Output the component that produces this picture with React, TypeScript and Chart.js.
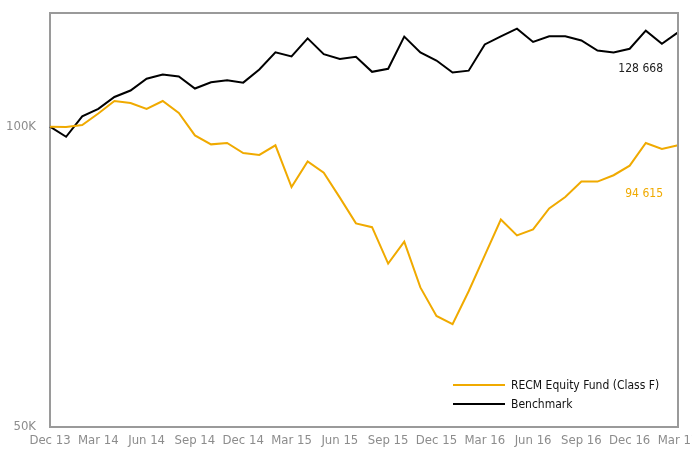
import React, { useEffect, useRef } from "react";
import { Chart, registerables } from "chart.js";

Chart.register(...registerables);

const months: string[] = [
  "Dec 13", "Jan 14", "Feb 14", "Mar 14", "Apr 14", "May 14", "Jun 14", "Jul 14", "Aug 14", "Sep 14",
  "Oct 14", "Nov 14", "Dec 14", "Jan 15", "Feb 15", "Mar 15", "Apr 15", "May 15", "Jun 15", "Jul 15",
  "Aug 15", "Sep 15", "Oct 15", "Nov 15", "Dec 15", "Jan 16", "Feb 16", "Mar 16", "Apr 16", "May 16",
  "Jun 16", "Jul 16", "Aug 16", "Sep 16", "Oct 16", "Nov 16", "Dec 16", "Jan 17", "Feb 17", "Mar 17",
];

const fundValues: number[] = [
  100000, 99900, 100400, 103100, 106100, 105600, 104200, 106100, 103200, 98000,
  96000, 96300, 94100, 93700, 95800, 87000, 92300, 89900, 84900, 80000,
  79300, 72900, 76700, 69000, 64600, 63400, 68400, 74300, 80700, 77800,
  78900, 82800, 85000, 88100, 88100, 89400, 91400, 96300, 95000, 95800,
];

const benchmarkValues: number[] = [
  100000, 97700, 102400, 104200, 107100, 108700, 111700, 112800, 112300, 109200,
  110800, 111300, 110700, 114100, 118700, 117600, 122600, 118200, 116900, 117500,
  113500, 114300, 123100, 118700, 116500, 113300, 113800, 120900, 123200, 125400,
  121600, 123200, 123200, 122000, 119200, 118700, 119700, 124800, 121100, 124300,
];

const xTickLabels: string[] = [
  "Dec 13", "Mar 14", "Jun 14", "Sep 14", "Dec 14", "Mar 15", "Jun 15",
  "Sep 15", "Dec 15", "Mar 16", "Jun 16", "Sep 16", "Dec 16", "Mar 17",
];

const yTickValues: number[] = [50000, 100000];
const yTickLabels: string[] = ["50K", "100K"];

const seriesNames: string[] = ["RECM Equity Fund (Class F)", "Benchmark"];
const endLabels: string[] = ["94 615", "128 668"];

const FUND_COLOR = "#F0AA00";
const BENCH_COLOR = "#000000";
const AXIS_COLOR = "#9a9a9a";
const TICK_COLOR = "#8c8c8c";
const FONT = "'Liberation Sans Narrow', 'DejaVu Sans Condensed', 'Roboto', sans-serif";

const overlayPlugin = {
  id: "overlay",
  afterDatasetsDraw(chart: any) {
    const { ctx, chartArea } = chart;
    ctx.save();
    // top & right border
    ctx.strokeStyle = AXIS_COLOR;
    ctx.lineWidth = 2;
    ctx.beginPath();
    ctx.moveTo(chartArea.left, chartArea.top);
    ctx.lineTo(chartArea.right, chartArea.top);
    ctx.lineTo(chartArea.right, chartArea.bottom);
    ctx.stroke();

    // end labels
    ctx.font = `12px ${FONT}`;
    ctx.textAlign = "right";
    ctx.textBaseline = "middle";
    const offsets = [49, 36];
    chart.data.datasets.forEach((ds: any, i: number) => {
      const meta = chart.getDatasetMeta(i);
      const last = meta.data[meta.data.length - 1];
      ctx.fillStyle = i === 0 ? FUND_COLOR : "#222";
      ctx.fillText(endLabels[i], last.x - 15, last.y + offsets[i]);
    });

    // legend
    ctx.font = `12px ${FONT}`;
    ctx.textAlign = "left";
    const lx = chartArea.right - 225;
    const ys = [chartArea.bottom - 42, chartArea.bottom - 23];
    seriesNames.forEach((name, i) => {
      ctx.strokeStyle = i === 0 ? FUND_COLOR : BENCH_COLOR;
      ctx.lineWidth = 2;
      ctx.beginPath();
      ctx.moveTo(lx, ys[i]);
      ctx.lineTo(lx + 52, ys[i]);
      ctx.stroke();
      ctx.fillStyle = "#111";
      ctx.fillText(name, lx + 58, ys[i] + 1);
    });
    ctx.restore();
  },
};

export default function App() {
  const canvasRef = useRef<HTMLCanvasElement | null>(null);

  useEffect(() => {
    document.body.style.margin = "0";
    const canvas = canvasRef.current;
    if (!canvas) return;
    const chart = new Chart(canvas, {
      type: "line",
      data: {
        labels: months,
        datasets: [
          {
            label: seriesNames[0],
            data: fundValues,
            borderColor: FUND_COLOR,
            borderWidth: 2,
            pointRadius: 0,
            tension: 0,
          },
          {
            label: seriesNames[1],
            data: benchmarkValues,
            borderColor: BENCH_COLOR,
            borderWidth: 2,
            pointRadius: 0,
            tension: 0,
          },
        ],
      },
      options: {
        animation: false,
        responsive: false,
        maintainAspectRatio: false,
        layout: { padding: { left: 0, right: 14, top: 13, bottom: 0 } },
        plugins: { legend: { display: false }, tooltip: { enabled: false } },
        scales: {
          x: {
            type: "category",
            offset: false,
            grid: { display: false, drawTicks: false },
            border: { display: true, color: AXIS_COLOR, width: 2 },
            ticks: {
              autoSkip: false,
              maxRotation: 0,
              minRotation: 0,
              padding: 6,
              color: TICK_COLOR,
              font: { family: FONT, size: 13 },
              callback: (_v: any, i: number) => {
                const lab = months[i];
                return xTickLabels.includes(lab) ? lab : "";
              },
            },
            afterFit: (scale: any) => {
              scale.height = 25;
              scale.paddingLeft = 0;
              scale.paddingRight = 0;
            },
          },
          y: {
            type: "logarithmic",
            min: 50000,
            max: 130000,
            grid: { display: false, drawTicks: false },
            border: { display: true, color: AXIS_COLOR, width: 2 },
            afterBuildTicks: (scale: any) => {
              scale.ticks = yTickValues.map((v) => ({ value: v }));
            },
            ticks: {
              padding: 14,
              color: TICK_COLOR,
              font: { family: FONT, size: 13 },
              callback: (v: any) => {
                const idx = yTickValues.indexOf(Number(v));
                return idx >= 0 ? yTickLabels[idx] : "";
              },
            },
            afterFit: (scale: any) => {
              scale.width = 50;
              scale.paddingTop = 0;
              scale.paddingBottom = 0;
            },
          },
        },
      },
      plugins: [overlayPlugin],
    });
    return () => chart.destroy();
  }, []);

  return (
    <div style={{ width: 692, height: 452, position: "relative" }}>
      <canvas ref={canvasRef} width={692} height={452} style={{ display: "block" }} />
    </div>
  );
}
